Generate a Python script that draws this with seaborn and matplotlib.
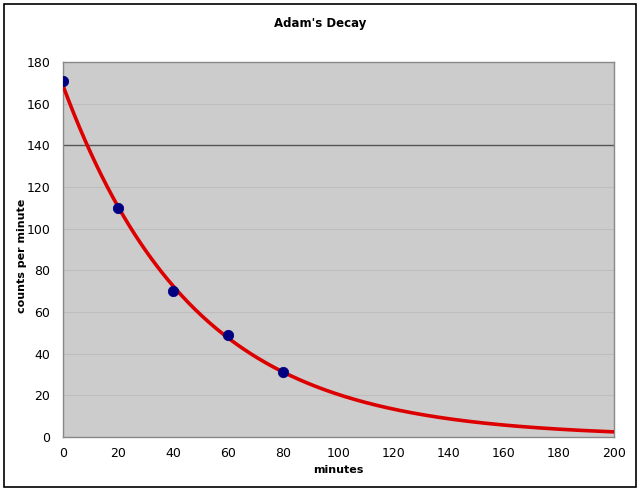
import numpy as np
import pandas as pd
import matplotlib.pyplot as plt
import seaborn as sns
from matplotlib.patches import Rectangle

# Measured counts
minutes = [0, 20, 40, 60, 80]
counts = [171, 110, 70, 49, 31]

df = pd.DataFrame({"minutes": minutes, "counts": counts})

# Exponential trendline (least squares on log counts, like Excel)
slope, intercept = np.polyfit(df["minutes"], np.log(df["counts"]), 1)
fit_x = np.linspace(0, 200, 400)
fit = pd.DataFrame({"minutes": fit_x, "counts": np.exp(intercept + slope * fit_x)})

sns.set_style("white")
plt.rcParams["font.family"] = ["DejaVu Sans"]
plt.rcParams["text.color"] = "black"
plt.rcParams["axes.labelcolor"] = "black"
plt.rcParams["xtick.color"] = "black"
plt.rcParams["ytick.color"] = "black"

fig = plt.figure(figsize=(6.4, 4.93), dpi=100)
ax = fig.add_axes([0.0984, 0.1136, 0.8606, 0.7606])
ax.set_facecolor("#cccccc")

# gridlines
for yv in [20, 40, 60, 80, 100, 120, 160]:
    ax.axhline(yv, color="#bdbdbd", lw=0.8, zorder=1)
ax.axhline(140, color="#555555", lw=1.0, zorder=1)

sns.lineplot(data=fit, x="minutes", y="counts", color="#dd0000", lw=2.6, ax=ax, zorder=3)
sns.scatterplot(data=df, x="minutes", y="counts", color="#000080", s=55,
                edgecolor="#000080", ax=ax, zorder=4)

ax.set_xlim(0, 200)
ax.set_ylim(0, 180)
ax.set_xticks(range(0, 201, 20))
ax.set_yticks(range(0, 181, 20))
ax.tick_params(labelsize=9, length=4, color="#888888", direction="out",
               labelcolor="black")
ax.tick_params(axis="y", pad=5)
ax.tick_params(axis="x", pad=3)
for s in ax.spines.values():
    s.set_color("#888888")
    s.set_linewidth(1.0)

ax.set_xlabel("minutes", fontsize=8, fontweight="bold", labelpad=4)
ax.set_ylabel("counts per minute", fontsize=8, fontweight="bold")
ax.yaxis.set_label_coords(-0.066, 0.483)
fig.text(0.5, 1 - 24 / 493, "Adam's Decay", fontsize=8.5, fontweight="bold",
         ha="center", va="center")

# outer chart frame
fig.patches.append(Rectangle((4 / 640, 6 / 493), 632 / 640, 483 / 493,
                             transform=fig.transFigure, fill=False,
                             edgecolor="black", lw=1.2))

fig.savefig("out.png", dpi=100)
